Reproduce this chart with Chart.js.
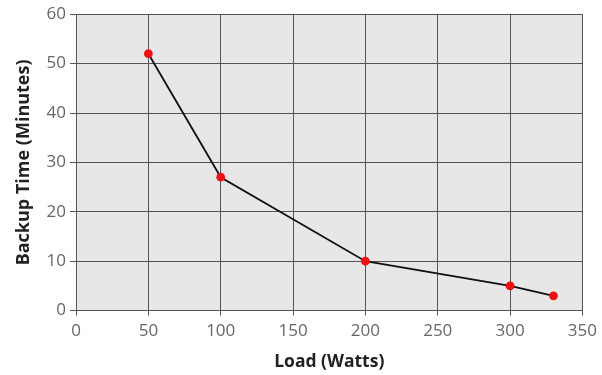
<!DOCTYPE html>
<html>
<head>
<meta charset="utf-8">
<script src="https://cdn.jsdelivr.net/npm/chart.js@4/dist/chart.umd.min.js"></script>
<style>
  html, body { margin: 0; padding: 0; background: #fff; }
  #wrap { width: 602px; height: 375px; position: relative; }
</style>
</head>
<body>
<div id="wrap"><canvas id="chart1"></canvas></div>
<script>
// data
var loadWatts = [50, 100, 200, 300, 330];
var backupMinutes = [52, 27, 10, 5, 3];
var xTicks = [0, 50, 100, 150, 200, 250, 300, 350];
var yTicks = [0, 10, 20, 30, 40, 50, 60];

// gray plot background
var plotBg = {
    id: 'plotBg',
    beforeDraw: function(chart) {
        var a = chart.chartArea, c = chart.ctx;
        c.save();
        c.fillStyle = '#e7e7e7';
        c.fillRect(a.left, a.top, a.right - a.left, a.bottom - a.top);
        c.restore();
    }
};

var ctx = document.getElementById('chart1').getContext('2d');
var myChart = new Chart(ctx, {
    type: 'scatter',
    data: {
        datasets: [{
            data: loadWatts.map(function(x, i) { return { x: x, y: backupMinutes[i] }; }),
            showLine: true,
            borderColor: '#111111',
            borderWidth: 1.8,
            pointBackgroundColor: '#ee1111',
            pointBorderColor: '#ee1111',
            pointRadius: 3.5,
            tension: 0
        }]
    },
    options: {
        responsive: true,
        maintainAspectRatio: false,
        animation: false,
        layout: { padding: { top: 6, right: 11, left: 9, bottom: -2 } },
        plugins: {
            legend: { display: false },
            tooltip: { enabled: false }
        },
        scales: {
            x: {
                type: 'linear',
                min: 0,
                max: 350,
                afterBuildTicks: function(axis) { axis.ticks = xTicks.map(function(v) { return { value: v }; }); },
                grid: { color: '#555', lineWidth: 1, tickLength: 5, drawOnChartArea: true },
                border: { color: '#555' },
                ticks: { color: '#666', font: { family: 'Open Sans', size: 17 }, padding: 5 },
                title: { display: true, text: 'Load (Watts)', color: '#222', font: { family: 'Open Sans', size: 17.5, weight: 'bold' }, padding: { top: 6 } }
            },
            y: {
                min: 0,
                max: 60,
                afterBuildTicks: function(axis) { axis.ticks = yTicks.map(function(v) { return { value: v }; }); },
                grid: { color: '#555', lineWidth: 1, tickLength: 6 },
                border: { color: '#555' },
                ticks: { color: '#666', font: { family: 'Open Sans', size: 17 }, padding: 4 },
                title: { display: true, text: 'Backup Time (Minutes)', color: '#222', font: { family: 'Open Sans', size: 18, weight: 'bold' }, padding: { bottom: 8 } }
            }
        }
    },
    plugins: [plotBg]
});
</script>
</body>
</html>
